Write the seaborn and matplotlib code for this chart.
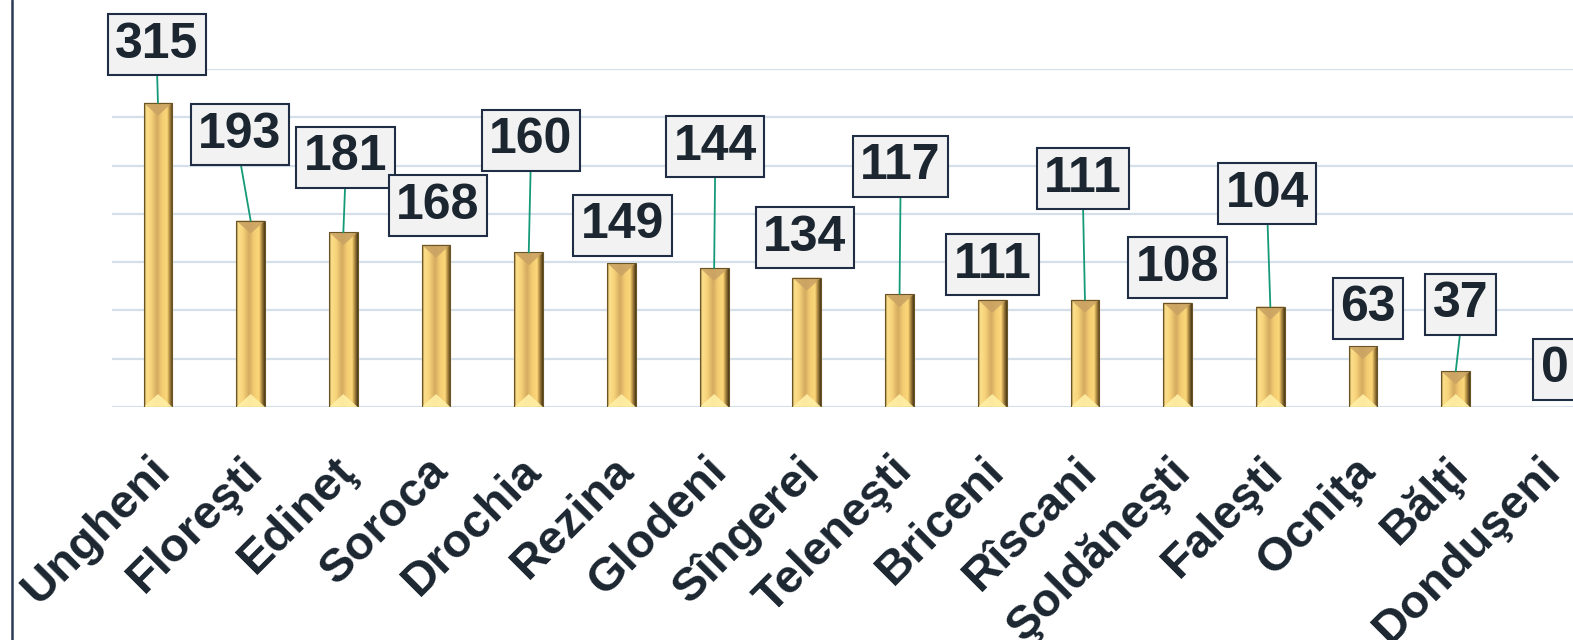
import numpy as np
import matplotlib
matplotlib.use("Agg")
import matplotlib.pyplot as plt
import matplotlib.transforms as mtransforms
import seaborn as sns
from matplotlib.colors import LinearSegmentedColormap
from matplotlib.patches import Polygon
from matplotlib.lines import Line2D

districts = ["Ungheni", "Floreşti", "Edineţ", "Soroca", "Drochia", "Rezina", "Glodeni",
             "Sîngerei", "Teleneşti", "Briceni", "Rîscani", "Şoldăneşti", "Faleşti",
             "Ocniţa", "Bălţi", "Donduşeni"]
values = [315, 193, 181, 168, 160, 149, 144, 134, 117, 111, 111, 108, 104, 63, 37, 0]

# label box offsets from bar top (pixels), as placed in the original
label_dx = [-1, -11, 2, 2, 2, 1, 1, -2, 1, 0, -2, 0, -3, 5, 5, 6]
label_dy = [58, 86, 75, 39, 112, 38, 121, 40, 128, 35, 121, 35, 113, 38, 67, 38]

W, H = 1573, 640
sns.set_theme(style="white")
plt.rcParams['font.family'] = ['Liberation Sans', 'DejaVu Sans']

fig = plt.figure(figsize=(W / 100, H / 100), dpi=100)
ax = fig.add_axes([111.6 / W, (H - 407) / H, 16 * 92.7 / W, 338 / H])

sns.barplot(x=districts, y=values, color="#f2c96a", width=0.31, ax=ax, zorder=2)
ax.set_xlim(-0.5, 15.5)
ax.set_ylim(0, 350)
ax.set_yticks(np.arange(0, 351, 50))
ax.set_yticklabels([])
ax.yaxis.grid(True, color="#d5dfe9", lw=1.6)
ax.set_axisbelow(True)
for s in ax.spines.values():
    s.set_visible(False)
ax.set_xlabel("")
ax.set_ylabel("")
ax.tick_params(axis="both", length=0)

# gold bevel look
gold = LinearSegmentedColormap.from_list("gold", [
    (0.0, "#7a5c28"), (0.07, "#fde08a"), (0.25, "#f6d27a"), (0.45, "#d4aa60"),
    (0.62, "#f3cb72"), (0.8, "#fdd87a"), (0.9, "#a8843e"), (1.0, "#4a3a1a")])
grad = np.linspace(0, 1, 64).reshape(1, -1)
ppu = ax.transData.transform((0, 1))[1] - ax.transData.transform((0, 0))[1]
d = 13 / ppu
for p in ax.patches:
    x0, y0 = p.get_x(), p.get_y()
    x1, y1 = x0 + p.get_width(), y0 + p.get_height()
    if p.get_height() <= 0:
        continue
    im = ax.imshow(grad, extent=[x0, x1, y0, y1], aspect="auto", cmap=gold, zorder=3)
    im.set_clip_path(p)
    xc = (x0 + x1) / 2
    dd = min(d, (y1 - y0) / 2)
    ax.add_patch(Polygon([(x0, y1), (x1, y1), (xc, y1 - dd)], closed=True,
                         fc="#c9a263", ec="none", alpha=0.85, zorder=4))
    ax.add_patch(Polygon([(x0, y0), (x1, y0), (xc, y0 + dd)], closed=True,
                         fc="#fff0a6", ec="none", alpha=0.9, zorder=4))
    ax.add_patch(plt.Rectangle((x0, y0), x1 - x0, y1 - y0, fill=False,
                               ec="#6b5426", lw=0.8, zorder=5))
ax.set_xlim(-0.5, 15.5)
ax.set_ylim(0, 350)

for i, v in enumerate(values):
    arrow = None
    if label_dy[i] > 50:
        arrow = dict(arrowstyle="-", color="#159a78", lw=1.3, shrinkA=0, shrinkB=0,
                     relpos=(0.5, 0))
    ax.annotate(str(v), xy=(i, v), xytext=(label_dx[i], label_dy[i]),
                textcoords="offset pixels", ha="center", va="center",
                fontsize=36, fontweight="bold", color="#1b2631",
                bbox=dict(boxstyle="square,pad=0.15", fc="#f2f2f2", ec="#1f2d45", lw=1.5),
                arrowprops=arrow, annotation_clip=False, zorder=6)

ax.set_xticks(range(len(districts)))
ax.set_xticklabels(districts, rotation=45, ha="right", va="top", rotation_mode="anchor",
                   fontsize=34, fontweight="bold", color="#1b2631")
ax.tick_params(axis="x", pad=30)
shift = mtransforms.ScaledTranslation(-0.1, 0, fig.dpi_scale_trans)
for lab in ax.get_xticklabels():
    lab.set_transform(lab.get_transform() + shift)

fig.add_artist(Line2D([12 / W, 12 / W], [0, 1], color="#2c3a55", lw=1.8))

fig.savefig("out.png", dpi=100)
